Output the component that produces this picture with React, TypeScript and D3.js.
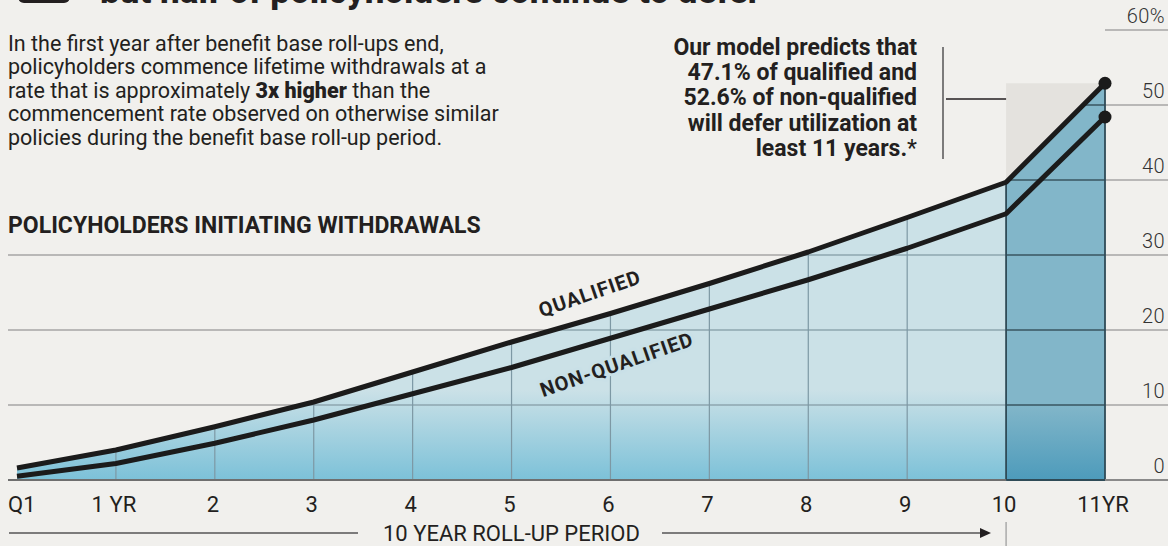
import * as d3 from "d3";

const categories = ["Q1", "1 YR", "2", "3", "4", "5", "6", "7", "8", "9", "10", "11YR"];
const qualified = [1.6, 4.0, 7.1, 10.4, 14.4, 18.4, 22.2, 26.2, 30.4, 35.0, 39.7, 52.9];
const nonQualified = [0.5, 2.2, 4.9, 8.0, 11.5, 15.0, 18.9, 22.8, 26.7, 30.9, 35.5, 48.4];
const yTicks = [0, 10, 20, 30, 40, 50, 60];

const paragraph = [
  ["In the first year after benefit base roll-ups end,"],
  ["policyholders commence lifetime withdrawals at a"],
  ["rate that is approximately ", "3x higher", " than the"],
  ["commencement rate observed on otherwise similar"],
  ["policies during the benefit base roll-up period."],
];
const note = [
  "Our model predicts that",
  "47.1% of qualified and",
  "52.6% of non-qualified",
  "will defer utilization at",
  "least 11 years.",
];

const W = 1168;
const H = 546;
const FONT = "Roboto, 'Noto Sans', sans-serif";
const BG = "#f1f0ed";
const INK = "#231f20";

type Row = { c: string; q: number; n: number };
const rows: Row[] = categories.map((c, i) => ({ c, q: qualified[i], n: nonQualified[i] }));

// small filled arrow head pointing right, tip at (x, y)
const head = (x: number, y: number, len = 11, half = 5.5) => `M${x},${y}L${x - len},${y - half}L${x - len},${y + half}Z`;

export default function App() {
  const x = d3.scalePoint<string>().domain(categories).range([17, 1105]);
  const y = d3.scaleLinear().domain([0, 60]).range([480, 30]);
  const px = (c: string) => x(c) as number;

  const x10 = px("10");
  const x11 = px("11YR");
  const last = categories.length - 1;
  const top = y(d3.max(qualified) as number);

  const area = d3
    .area<Row>()
    .x((d) => px(d.c))
    .y0(y(0))
    .y1((d) => y(d.q));
  const lineQ = d3
    .line<Row>()
    .x((d) => px(d.c))
    .y((d) => y(d.q));
  const lineN = d3
    .line<Row>()
    .x((d) => px(d.c))
    .y((d) => y(d.n));

  const colRows = rows.slice(categories.indexOf("10"));

  // where each grid line starts (the upper ones only sit over the last column)
  const gridStart = (v: number) => (v >= 50 ? x11 : v >= 40 ? x10 : 8);

  return (
    <div style={{ position: "absolute", left: 0, top: 0 }}>
      <svg width={W} height={H} style={{ display: "block", background: BG }} fontFamily={FONT}>
        <defs>
          <linearGradient id="lightFill" gradientUnits="userSpaceOnUse" x1="0" y1={y(12)} x2="0" y2={y(0)}>
            <stop offset="0" stopColor="#cbe1e7" />
            <stop offset="1" stopColor="#7cc1d8" />
          </linearGradient>
          <linearGradient id="darkFill" gradientUnits="userSpaceOnUse" x1="0" y1={y(10)} x2="0" y2={y(0)}>
            <stop offset="0" stopColor="#82b6c9" />
            <stop offset="1" stopColor="#4d9bbb" />
          </linearGradient>
          <clipPath id="areaClip">
            <path d={area(rows) || ""} />
          </clipPath>
          <clipPath id="colClip">
            <path d={area(colRows) || ""} />
          </clipPath>
        </defs>

        {/* headline, cut off at the top */}
        <rect x={18} y={-30} width={52} height={33} rx={6} fill={INK} />
        <text x={100} y={2.5} fontSize={35} fontWeight={800} fill={INK}>
          but half of policyholders continue to defer
        </text>

        {/* intro paragraph */}
        <g fontSize={21.5} fill={INK}>
          {paragraph.map((parts, i) => (
            <text key={i} x={8} y={50.5 + i * 23.5}>
              {parts.map((p, j) => (
                <tspan key={j} fontWeight={p === "3x higher" ? 900 : 400}>
                  {p}
                </tspan>
              ))}
            </text>
          ))}
        </g>

        <text x={8} y={233} fontSize={23} fontWeight={700} fill={INK}>
          POLICYHOLDERS INITIATING WITHDRAWALS
        </text>

        {/* annotation */}
        <g fontSize={23} fontWeight={700} fill={INK} textAnchor="end">
          {note.map((t, i) => (
            <text key={i} x={917} y={55 + i * 25.2}>
              {t}
              {i === note.length - 1 ? <tspan fontWeight={400}>*</tspan> : null}
            </text>
          ))}
        </g>
        <line x1={943} x2={943} y1={47} y2={159} stroke="#555" strokeWidth={1.5} />
        <line x1={946} x2={1052} y1={99} y2={99} stroke={INK} strokeWidth={1.5} />
        <path d={head(1062, 99)} fill={INK} />

        {/* grey band behind the last year */}
        <rect x={x10} y={top} width={x11 - x10} height={y(0) - top} fill="#e4e2de" />

        {/* grid over the background */}
        {yTicks.slice(1).map((v) => (
          <line key={v} x1={gridStart(v)} x2={W} y1={y(v)} y2={y(v)} stroke="#a6a6a4" strokeWidth={1.5} />
        ))}

        {/* filled areas */}
        <path d={area(rows) || ""} fill="url(#lightFill)" />
        <path d={area(colRows) || ""} fill="url(#darkFill)" />

        {/* grid inside the light area */}
        <g clipPath="url(#areaClip)">
          {yTicks.slice(1, 5).map((v) => (
            <line key={v} x1={8} x2={x10} y1={y(v)} y2={y(v)} stroke="#8ea6af" strokeWidth={1.5} />
          ))}
          {rows.slice(1, last - 1).map((d) => (
            <line key={d.c} x1={px(d.c)} x2={px(d.c)} y1={y(0)} y2={y(d.q)} stroke="#7d98a4" strokeWidth={1.2} />
          ))}
        </g>
        {/* grid inside the dark column */}
        <g clipPath="url(#colClip)">
          {yTicks.slice(1, 6).map((v) => (
            <line key={v} x1={x10} x2={x11} y1={y(v)} y2={y(v)} stroke="#38545f" strokeWidth={1.5} />
          ))}
        </g>
        {colRows.map((d) => (
          <line key={d.c} x1={px(d.c)} x2={px(d.c)} y1={y(0)} y2={y(d.q)} stroke="#2f4b57" strokeWidth={1.8} />
        ))}

        {/* baseline */}
        <line x1={8} x2={x10} y1={y(0)} y2={y(0)} stroke="#6f6f6f" strokeWidth={2.2} />
        <line x1={x10} x2={x11} y1={y(0)} y2={y(0)} stroke="#2f4b57" strokeWidth={2.2} />
        <line x1={x11} x2={W} y1={y(0)} y2={y(0)} stroke="#8a8a8a" strokeWidth={2.2} />

        {/* series lines */}
        <path d={lineQ(rows) || ""} fill="none" stroke="#1b1b1b" strokeWidth={5} strokeLinejoin="round" />
        <path d={lineN(rows) || ""} fill="none" stroke="#1b1b1b" strokeWidth={5} strokeLinejoin="round" />
        <circle cx={px(rows[last].c)} cy={y(rows[last].q)} r={6.5} fill="#1b1b1b" />
        <circle cx={px(rows[last].c)} cy={y(rows[last].n)} r={6.5} fill="#1b1b1b" />

        {/* series labels */}
        <g fontSize={20} fontWeight={700} fill={INK} letterSpacing={1} textAnchor="middle">
          <text transform="translate(592,300) rotate(-19)">QUALIFIED</text>
          <text
            transform="translate(619,371) rotate(-19)"
            stroke="#c9e0e7"
            strokeWidth={6}
            paintOrder="stroke"
            strokeLinejoin="round"
          >
            NON-QUALIFIED
          </text>
        </g>

        {/* y tick labels */}
        <g fontSize={20} fontWeight={300} fill="#333" textAnchor="end" letterSpacing={0.4}>
          {yTicks.map((v) => (
            <text key={v} x={1165} y={y(v) - 7.5}>
              {v === 60 ? "60%" : v}
            </text>
          ))}
        </g>

        {/* x tick labels */}
        <g fontSize={22} fill={INK} textAnchor="middle">
          {categories.map((c, i) => (
            <text key={c} x={i === 0 ? 8 : px(c) - 2} y={512} textAnchor={i === 0 ? "start" : "middle"}>
              {c}
            </text>
          ))}
        </g>

        {/* roll-up period bracket */}
        <line x1={9} x2={358} y1={533} y2={533} stroke="#555" strokeWidth={1.5} />
        <text x={383} y={541} fontSize={22} fill={INK}>
          10 YEAR ROLL-UP PERIOD
        </text>
        <line x1={662} x2={982} y1={533} y2={533} stroke="#555" strokeWidth={1.5} />
        <path d={head(991, 533, 11, 5)} fill={INK} />
        <line x1={x10} x2={x10} y1={522} y2={H} stroke="#aaa" strokeWidth={1.5} />
      </svg>
    </div>
  );
}
